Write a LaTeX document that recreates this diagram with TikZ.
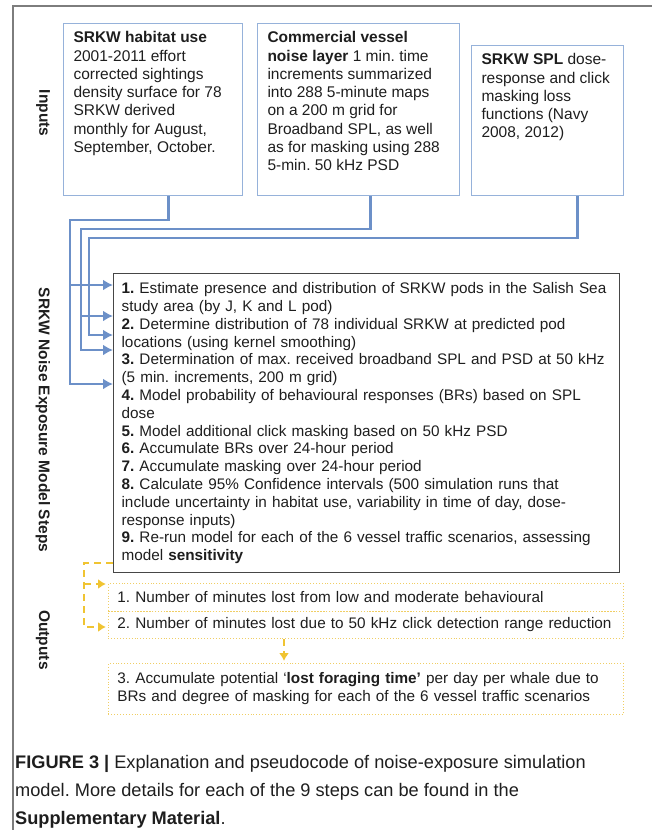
\documentclass[tikz,border=0pt]{standalone}
\usepackage{fontspec}
\setmainfont{Liberation Sans}
\usepackage{tikz}
\usetikzlibrary{arrows.meta}
\frenchspacing
\definecolor{framegray}{RGB}{125,125,125}
\definecolor{linkblue}{RGB}{108,144,200}
\definecolor{boxblue}{RGB}{150,178,218}
\definecolor{stepgray}{RGB}{70,70,70}
\definecolor{outgold}{RGB}{240,196,50}
\definecolor{outdot}{RGB}{240,206,100}
\definecolor{inktext}{RGB}{30,30,30}
\tikzstyle{inbox}=[draw=boxblue,line width=1pt,anchor=north west,inner xsep=10pt,inner ysep=8pt,text=inktext,font=\fontsize{15.5}{18.3}\selectfont]
\tikzstyle{stepbox}=[draw=stepgray,line width=1.2pt,anchor=north west,text width=490pt,align=left,inner xsep=8pt,inner ysep=9pt,text=inktext,font=\fontsize{15.3}{17.8}\selectfont]
\tikzstyle{outbox}=[draw=outdot,line width=0.9pt,dotted,anchor=north west,text width=497pt,align=left,inner xsep=9pt,inner ysep=0pt,text=inktext,font=\fontsize{15.3}{18}\selectfont]
\tikzstyle{rowlabel}=[rotate=-90,text=inktext,font=\fontsize{15.5}{18}\selectfont\bfseries]
\tikzstyle{feed}=[draw=linkblue,line width=2.6pt,-{Latex[length=10pt,width=11pt]}]
\tikzstyle{result}=[draw=outgold,line width=2.4pt,dash pattern=on 7pt off 5pt,-{Latex[length=8pt,width=10pt]},shorten >=2pt]
\tikzstyle{caption}=[anchor=north west,align=left,inner sep=0pt,text=inktext,font=\fontsize{18.2}{28}\selectfont]

\begin{document}
\begin{tikzpicture}[x=1pt,y=-1pt]
  \useasboundingbox (0,0) rectangle (652,830);
  % frame
  \draw[framegray,line width=2pt] (652,6) -- (13,6) -- (13,830);
  % row labels
  \node[rowlabel] (inputs) at (43,113) {Inputs};
  \node[rowlabel] (modelsteps) at (43,420) {SRKW Noise Exposure Model Steps};
  \node[rowlabel] (outputs) at (43,640) {Outputs};
  % inputs
  \node[inbox] (habitat) at (63,23) {\parbox[t][156pt][t]{159pt}{\raggedright
    \textbf{SRKW habitat use}\\2001-2011 effort\\corrected sightings\\density surface for 78\\SRKW derived\\monthly for August,\\September, October.}};
  \node[inbox] (vessel) at (257,23) {\parbox[t][156pt][t]{182pt}{\raggedright
    \textbf{Commercial vessel}\\\textbf{noise layer} 1 min. time\\increments summarized\\into 288 5-minute maps\\on a 200 m grid for\\Broadband SPL, as well\\as for masking using 288\\5-min. 50 kHz PSD}};
  \node[inbox] (spl) at (471,45) {\parbox[t][134pt][t]{132pt}{\raggedright
    \textbf{SRKW SPL} dose-\\response and click\\masking loss\\functions (Navy\\2008, 2012)}};
  % model steps
  \node[stepbox] (steps) at (113,273) {\textbf{1.} Estimate presence and distribution of SRKW pods in the Salish Sea\\
    study area (by J, K and L pod)\\
    \textbf{2.} Determine distribution of 78 individual SRKW at predicted pod\\
    locations (using kernel smoothing)\\
    \textbf{3.} Determination of max. received broadband SPL and PSD at 50 kHz\\
    (5 min. increments, 200 m grid)\\
    \textbf{4.} Model probability of behavioural responses (BRs) based on SPL\\
    dose\\
    \textbf{5.} Model additional click masking based on 50 kHz PSD\\
    \textbf{6.} Accumulate BRs over 24-hour period\\
    \textbf{7.} Accumulate masking over 24-hour period\\
    \textbf{8.} Calculate 95\% Confidence intervals (500 simulation runs that\\
    include uncertainty in habitat use, variability in time of day, dose-\\
    response inputs)\\
    \textbf{9.} Re-run model for each of the 6 vessel traffic scenarios, assessing\\
    model \textbf{sensitivity}};
  % outputs
  \node[outbox,minimum height=28pt] (out1) at (108,583) {1. Number of minutes lost from low and moderate behavioural};
  \node[outbox,minimum height=27pt] (out2) at (108,611) {2. Number of minutes lost due to 50 kHz click detection range reduction};
  \node[outbox,minimum height=51pt] (out3) at (108,663) {3. Accumulate potential `\textbf{lost foraging time'} per day per whale due to\\BRs and degree of masking for each of the 6 vessel traffic scenarios};
  % inputs to steps
  \draw[feed] ([xshift=15.5pt]habitat.south) |- (70,220) |- (steps.west |- 0,384);
  \draw[feed] (70,285) -- (steps.west |- 0,285);
  \draw[feed] ([xshift=12pt]vessel.south) |- (81,229) |- (steps.west |- 0,350);
  \draw[feed] (81,316) -- (steps.west |- 0,316);
  \draw[feed] ([xshift=30pt]spl.south) |- (89,238) |- (steps.west |- 0,335);
  % steps to outputs
  \draw[result] (steps.west |- 0,563) -| (84,627) -- (out2.west |- 0,627);
  \draw[result] (84,584) -- (out1.west |- 0,584);
  \draw[result] (out2.south -| 284,0) -- (out3.north -| 284,0);
  % caption
  \node[caption] (caption) at (15,755) {\textbf{FIGURE 3 |} Explanation and pseudocode of noise-exposure simulation\\
    model. More details for each of the 9 steps can be found in the\\
    \textbf{Supplementary Material}.};
\end{tikzpicture}
\end{document}
